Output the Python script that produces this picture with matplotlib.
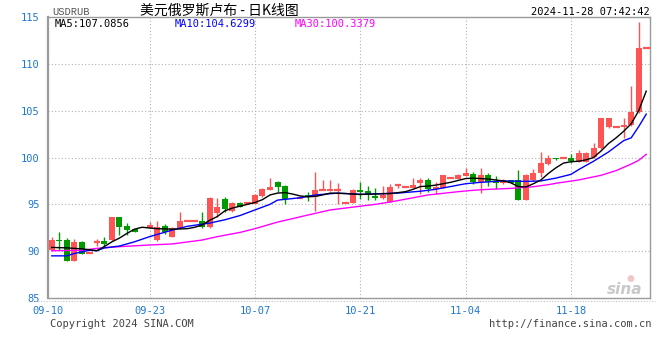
import numpy as np
import matplotlib
matplotlib.use('Agg')
import matplotlib.pyplot as plt
from matplotlib.lines import Line2D

nan = np.nan

# daily candles, one slot per calendar day from 09-10 to 11-28
opens = [90.13, 91.2, 91.2, 88.98, 91.0, 89.77, 91.0, 91.1, 91.19, 93.68,
         92.69, 92.37, nan, 92.51, 91.2, 92.69, 91.55, 92.47, 93.22, 93.22,
         93.22, 92.61, 94.04, 95.54, 94.29, 95.11, 95.11, 95.04, 95.89, 96.53,
         97.42, 96.96, nan, 95.71, 96.0, 95.82, 96.53, 96.46, 96.53, 95.11,
         95.11, 96.53, 96.42, 95.92, 95.71, 95.28, 97.06, 96.82, 96.78, 97.25,
         97.6, 96.6, 96.71, 97.84, 97.71, 98.06, 98.24, 97.35, 98.13, 97.49,
         97.25, 97.6, 97.6, 95.46, 97.6, 98.31, 99.31, 99.92, 99.92, 99.92,
         99.55, 99.55, 100.09, 100.98, 103.22, 103.22, 103.22, 103.47, 104.83, 111.66]
highs = [91.5, 92.05, 91.4, 91.3, 91.05, 89.77, 91.3, 91.48, 93.68, 93.7,
         92.97, 92.4, nan, 93.15, 93.25, 92.9, 92.6, 94.21, 93.22, 93.22,
         94.21, 95.75, 95.71, 95.82, 95.2, 95.2, 95.11, 96.1, 96.7, 97.81,
         97.5, 97.1, nan, 95.71, 96.35, 98.45, 97.6, 97.6, 97.25, 95.11,
         96.6, 97.38, 96.96, 96.78, 96.96, 97.2, 97.06, 96.82, 97.84, 97.84,
         97.84, 97.35, 98.13, 97.84, 98.2, 98.91, 98.49, 98.91, 98.31, 98.03,
         97.7, 97.65, 98.67, 98.2, 98.74, 100.62, 100.27, 99.95, 99.92, 100.34,
         100.8, 100.6, 101.52, 104.25, 104.25, 103.22, 104.25, 107.63, 114.5, 111.66]
lows = [90.0, 90.15, 88.9, 88.95, 89.65, 89.77, 90.55, 90.48, 91.1, 91.73,
        91.73, 92.0, nan, 92.5, 91.1, 91.84, 91.5, 92.4, 93.22, 93.22,
        92.44, 92.5, 93.68, 94.21, 94.2, 94.7, 95.11, 95.0, 95.8, 96.5,
        96.35, 95.0, nan, 95.71, 95.39, 94.32, 96.5, 96.4, 95.04, 95.11,
        95.1, 95.54, 95.46, 95.5, 95.6, 95.2, 96.78, 96.82, 96.7, 96.07,
        96.35, 96.07, 96.7, 97.84, 97.7, 98.0, 97.14, 96.24, 96.96, 96.6,
        97.2, 97.25, 95.46, 95.46, 97.5, 97.95, 99.2, 99.7, 99.92, 99.38,
        99.5, 99.5, 100.0, 100.9, 103.2, 103.22, 102.11, 103.4, 104.8, 111.66]
closes = [91.19, 91.12, 88.95, 91.0, 89.7, 89.77, 91.05, 90.77, 93.68, 92.61,
          92.26, 92.05, nan, 92.79, 92.61, 92.08, 92.47, 93.22, 93.22, 93.22,
          92.61, 95.71, 94.75, 94.5, 95.11, 94.75, 95.11, 96.0, 96.61, 96.82,
          96.88, 95.54, nan, 95.71, 95.75, 96.53, 96.55, 96.64, 96.55, 95.11,
          96.53, 96.32, 96.07, 95.71, 96.0, 96.88, 97.06, 96.82, 97.06, 97.6,
          96.64, 96.88, 98.13, 97.84, 98.13, 98.31, 97.35, 98.13, 97.35, 97.25,
          97.6, 97.3, 95.46, 98.13, 98.38, 99.45, 99.98, 99.8, 99.92, 99.63,
          100.51, 100.45, 101.05, 104.25, 104.25, 103.22, 103.47, 104.83, 111.66, 111.66]

# moving averages (day index, value)
ma5_day = [0, 2, 4, 6, 7, 8, 9, 10, 11, 12, 14, 16, 18, 19, 20, 21, 22, 23, 24, 25,
           26, 27, 28, 29, 30, 31, 32, 33, 34, 35, 36, 37, 39, 41, 43, 45, 47, 48, 49, 50,
           51, 52, 53, 54, 55, 56, 57, 58, 59, 60, 61, 62, 63, 64, 65, 66, 67, 68, 69, 70,
           71, 72, 73, 74, 75, 76, 77, 78, 79]
ma5 = [90.4, 90.35, 90.25, 90.05, 90.5, 91.0, 91.4, 91.9, 92.35, 92.55, 92.4, 92.35, 92.4, 92.55, 92.8, 93.3, 93.7, 94.3, 94.6, 94.8,
       95.0, 95.2, 95.5, 96.0, 96.2, 96.25, 96.1, 95.9, 95.8, 95.85, 96.0, 96.2, 96.15, 96.05, 96.1, 96.15, 96.35, 96.6, 96.9, 96.95,
       97.05, 97.2, 97.35, 97.55, 97.75, 97.8, 97.75, 97.7, 97.6, 97.5, 97.3, 96.9, 96.85, 97.2, 97.6, 98.3, 98.9, 99.4, 99.55, 99.6,
       99.75, 100.0, 100.7, 101.5, 102.1, 102.8, 103.6, 105.0, 107.0856]
ma10_day = [0, 2, 3, 5, 6, 7, 9, 11, 13, 16, 18, 21, 23, 25, 27, 29, 30, 33, 35, 38,
            41, 44, 46, 49, 51, 53, 55, 57, 60, 63, 65, 67, 69, 70, 72, 74, 76, 77, 78, 79]
ma10 = [89.5, 89.5, 89.75, 90.1, 90.05, 90.35, 90.55, 91.0, 91.55, 92.25, 92.65, 93.0, 93.35, 93.8, 94.4, 95.0, 95.45, 95.7, 96.0, 96.2,
        96.07, 96.15, 96.2, 96.4, 96.6, 96.9, 97.2, 97.35, 97.5, 97.45, 97.5, 97.8, 98.2, 98.7, 99.6, 100.6, 101.8, 102.1, 103.3, 104.6299]
ma30_day = [0, 4, 6, 9, 13, 16, 20, 22, 23, 25, 27, 30, 34, 37, 41, 43, 45, 48, 50, 54,
            56, 58, 61, 64, 66, 67, 70, 73, 75, 77, 78, 79]
ma30 = [90.05, 90.1, 90.3, 90.48, 90.66, 90.77, 91.19, 91.55, 91.7, 92.0, 92.4, 93.1, 93.85, 94.4, 94.8, 95.0, 95.25, 95.7, 96.0, 96.35,
        96.5, 96.6, 96.7, 96.88, 97.1, 97.25, 97.6, 98.1, 98.6, 99.3, 99.7, 100.3379]

tick_days = [-0.5, 13, 27, 41, 55, 69]
tick_labels = ['09-10', '09-23', '10-07', '10-21', '11-04', '11-18']

UP = '#ff5454'
DOWN = '#009a00'
TICK_BLUE = '#1f78d1'
MONO = 'DejaVu Sans Mono'

plt.rcParams['font.family'] = [MONO, 'Noto Sans CJK SC']

W, H = 660, 360
fig = plt.figure(figsize=(6.6, 3.6), dpi=100)
ax = fig.add_axes([48 / W, 1 - 298 / H, 602 / W, 281 / H])

days = np.arange(len(opens))
o = np.array(opens)
c = np.array(closes)
hi = np.array(highs)
lo = np.array(lows)
ok = ~np.isnan(o)
cols = np.where(c >= o, UP, DOWN)

# grid
for y in [90, 95, 100, 105, 110]:
    ax.axhline(y, color='#b0b0b0', lw=0.8, ls=(0, (1, 2)), zorder=0)
for d in tick_days[1:]:
    ax.axvline(d, color='#b0b0b0', lw=0.8, ls=(0, (1, 2)), zorder=0)

# wicks and bodies
ax.vlines(days[ok], lo[ok], hi[ok], colors=cols[ok], lw=1, zorder=2)
flat = ok & (np.abs(c - o) < 0.06)
body = ok & ~flat
ax.bar(days[body], np.abs(c - o)[body], bottom=np.minimum(o, c)[body],
       width=0.8, color=cols[body], lw=0, zorder=3)
ax.hlines(o[flat], days[flat] - 0.45, days[flat] + 0.45, colors=cols[flat], lw=1.6, zorder=3)

# moving averages
ax.plot(ma30_day, ma30, color='#ff00ff', lw=1.0, zorder=4)
ax.plot(ma10_day, ma10, color='#0000ff', lw=1.0, zorder=4)
ax.plot(ma5_day, ma5, color='black', lw=1.0, zorder=5)

ax.set_xlim(-0.5, 79.5)
ax.set_ylim(85, 115)
ax.set_yticks([85, 90, 95, 100, 105, 110, 115])
ax.set_xticks(tick_days)
ax.set_xticklabels(tick_labels)
ax.tick_params(length=0, labelsize=7.5, labelcolor=TICK_BLUE)
ax.tick_params(axis='y', pad=6)
ax.tick_params(axis='x', pad=6)
for s in ax.spines.values():
    s.set_color('#9a9a9a')
    s.set_linewidth(1)
ax.spines['left'].set_linewidth(1.6)

# moving average readouts
ax.text(55 / W, 1 - 24 / H, 'MA5:107.0856', transform=fig.transFigure,
        fontsize=7.5, color='black', va='center')
ax.text(175 / W, 1 - 24 / H, 'MA10:104.6299', transform=fig.transFigure,
        fontsize=7.5, color='#0000ff', va='center')
ax.text(295 / W, 1 - 24 / H, 'MA30:100.3379', transform=fig.transFigure,
        fontsize=7.5, color='#ff00ff', va='center')

# header
fig.text(52 / W, 1 - 12 / H, 'USDRUB', fontsize=7.5, color='#555555',
         va='center', family='Liberation Mono')
fig.text(140 / W, 1 - 11 / H, '美元俄罗斯卢布 - 日K线图', fontsize=10,
         color='black', va='center', family=['Noto Sans CJK SC', 'DejaVu Sans'])
fig.text(650 / W, 1 - 12 / H, '2024-11-28 07:42:42', fontsize=7.5,
         color='black', va='center', ha='right')

# watermark
fig.text(625 / W, 1 - 289 / H, 'sina', fontsize=11, color='#c8c8c8',
         style='italic', weight='bold', va='center', ha='center', family='DejaVu Sans')
fig.text(630 / W, 1 - 278 / H, '●', fontsize=6.5, color='#f3c6c6',
         va='center', ha='center', family='DejaVu Sans')

# dotted rule under the chart and footer
fig.add_artist(Line2D([35 / W, 655 / W], [1 - 301 / H, 1 - 301 / H],
                      transform=fig.transFigure, color='#c4c4c4', lw=0.8, ls=(0, (1, 1.5))))
fig.text(50 / W, 1 - 324 / H, 'Copyright 2024 SINA.COM', fontsize=7.5,
         color='#444444', va='center')
fig.text(652 / W, 1 - 324 / H, 'http://finance.sina.com.cn', fontsize=7.5,
         color='#444444', va='center', ha='right')

fig.savefig('out.png', dpi=100, facecolor='white')
